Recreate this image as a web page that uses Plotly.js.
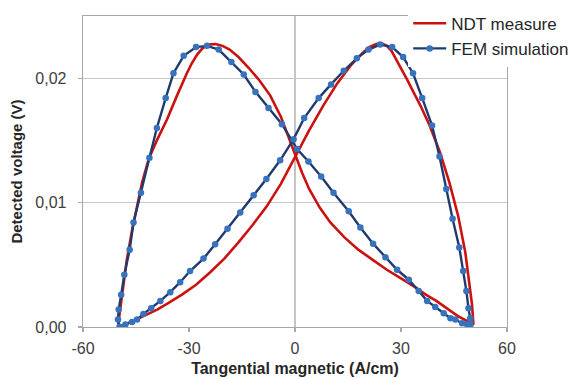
<!DOCTYPE html>
<html>
<head>
<meta charset="utf-8">
<script src="https://cdn.plot.ly/plotly-3.0.1.min.js"></script>
<style>html,body{margin:0;padding:0;background:#fff;}#chart{width:574px;height:379px;}</style>
</head>
<body>
<div id="chart"></div>
<script>
// NDT measure (red): increasing-field branch then decreasing-field branch
const ndtX = [-49.6,-47.5,-45.0,-42.0,-39.0,-36.0,-32.0,-28.0,-24.0,-20.0,-16.0,-12.0,-8.0,-4.0,0.0,4.0,8.0,12.0,16.0,19.0,21.0,23.0,24.5,26.0,27.3,28.5,30.0,31.7,33.5,35.5,38.1,41.1,43.7,46.2,48.2,49.3,50.1,50.5,
              48.5,46.0,43.0,40.0,37.0,34.0,30.0,26.0,22.0,18.0,14.0,10.0,7.0,4.0,2.0,0.0,-2.0,-4.0,-7.0,-10.0,-13.0,-16.0,-18.5,-20.5,-22.5,-24.5,-26.2,-27.7,-29.2,-30.6,-33.4,-36.2,-39.1,-41.4,-43.3,-44.7,-46.1,-47.6,-48.5,-49.4,-50.0,-49.6];
const ndtY = [0.0000,0.0003,0.0006,0.0010,0.0014,0.0019,0.0026,0.0034,0.0044,0.0055,0.0068,0.0082,0.0097,0.0115,0.0137,0.0158,0.0178,0.0196,0.0211,0.0220,0.0225,0.02275,0.0228,0.0226,0.0222,0.0216,0.0208,0.0199,0.0189,0.0178,0.0162,0.0140,0.0116,0.0089,0.0060,0.0038,0.0018,0.0002,
              0.0005,0.0009,0.0015,0.0021,0.0026,0.0032,0.0039,0.0046,0.0054,0.0062,0.0072,0.0084,0.0096,0.0111,0.0124,0.0139,0.0154,0.0169,0.0186,0.0198,0.0208,0.0217,0.0223,0.0226,0.02275,0.0227,0.0224,0.0219,0.0212,0.0204,0.0186,0.0167,0.0150,0.0135,0.0116,0.0097,0.0078,0.0054,0.0035,0.0017,0.0003,0.0000];

// FEM simulation (blue with markers)
const femX = [-49.6,-48.0,-46.1,-44.7,-42.9,-40.7,-38.1,-35.3,-32.5,-29.7,-25.9,-22.6,-19.1,-15.5,-11.7,-8.1,-4.2,-0.4,2.6,6.7,10.2,13.8,17.5,20.8,24.1,27.5,30.6,33.4,36.0,38.8,40.9,42.8,44.6,46.5,47.6,48.5,49.1,49.6,49.6,49.6,
              48.7,47.3,45.4,44.0,42.1,39.7,37.4,35.0,32.2,28.9,25.6,22.1,18.5,15.2,10.9,7.4,3.8,0.6,-3.7,-7.5,-11.2,-14.5,-18.0,-21.6,-24.9,-28.0,-31.5,-34.4,-36.6,-39.1,-41.2,-43.6,-45.7,-46.8,-48.3,-49.2,-49.9,-50.1,-49.6];
const femY = [0.0000,0.0002,0.0004,0.0006,0.00105,0.0015,0.0021,0.0028,0.0036,0.0045,0.0055,0.00665,0.0079,0.0092,0.0106,0.0119,0.0134,0.0151,0.0168,0.0184,0.0195,0.0206,0.0216,0.0223,0.0227,0.0225,0.0217,0.0204,0.0184,0.0162,0.0137,0.0111,0.0087,0.0064,0.0045,0.0029,0.0015,0.0007,0.0003,0.0000,
              0.0002,0.0003,0.0006,0.0007,0.0011,0.0016,0.0021,0.0029,0.0038,0.0046,0.0056,0.0067,0.0080,0.0093,0.0108,0.0121,0.0133,0.0143,0.0163,0.0176,0.0189,0.0203,0.0213,0.0223,0.0226,0.0225,0.0218,0.0204,0.0184,0.0160,0.0136,0.0108,0.0084,0.0062,0.0042,0.0026,0.0014,0.0006,0.0000];

const xTickVals = [-60,-30,0,30,60];
const xTickText = ['-60','-30','0','30','60'];
const yTickVals = [0,0.01,0.02];
const yTickText = ['0,00','0,01','0,02'];

const seriesNames = ['NDT measure','FEM simulation'];

const FONT = 'Liberation Sans, Arial, sans-serif';

const traces = [
  {
    x: ndtX, y: ndtY, name: seriesNames[0], type: 'scatter', mode: 'lines',
    line: {color: '#cc1111', width: 2.6},
    legendgroup: 'a'
  },
  {
    x: femX, y: femY, name: seriesNames[1], type: 'scatter', mode: 'lines+markers',
    line: {color: '#1f3b6e', width: 2.4},
    marker: {color: '#3672bd', size: 6.5},
    legendgroup: 'b'
  }
];

const axisCommon = {
  showline: true, mirror: true, linecolor: '#a8a8a8', linewidth: 1.3,
  ticks: 'outside', ticklen: 4, tickcolor: '#a8a8a8', tickwidth: 1.2,
  tickfont: {family: FONT, size: 16, color: '#404040'},
  fixedrange: true
};

const layout = {
  width: 574, height: 379, autosize: false,
  margin: {l: 83, r: 67, t: 16, b: 52, autoexpand: false},
  paper_bgcolor: '#ffffff', plot_bgcolor: '#ffffff',
  font: {family: FONT, color: '#262626'},
  showlegend: true,
  legend: {
    x: 0.767, xanchor: 'left', y: 1.033, yanchor: 'top',
    bgcolor: '#ffffff', borderwidth: 0,
    font: {family: FONT, size: 17, color: '#262626'},
    traceorder: 'grouped', tracegroupgap: 0,
    itemwidth: 33
  },
  xaxis: Object.assign({}, axisCommon, {
    range: [-60, 60], tickmode: 'array', tickvals: xTickVals, ticktext: xTickText,
    showgrid: false, zeroline: true, zerolinecolor: '#c4c4c4', zerolinewidth: 1.3,
    ticklabelstandoff: 2,
    title: {text: 'Tangential magnetic (A/cm)', font: {family: FONT, size: 16, color: '#262626', weight: 'bold'}, standoff: 7}
  }),
  yaxis: Object.assign({}, axisCommon, {
    range: [0, 0.025], tickmode: 'array', tickvals: yTickVals, ticktext: yTickText,
    showgrid: true, gridcolor: '#c8c8c8', gridwidth: 1.3, zeroline: false,
    ticklabelstandoff: 8,
    title: {text: 'Detected voltage (V)', font: {family: FONT, size: 15, color: '#262626', weight: 'bold'}, standoff: 9}
  })
};

Plotly.newPlot('chart', traces, layout, {displayModeBar: false, staticPlot: true});
</script>
</body>
</html>
